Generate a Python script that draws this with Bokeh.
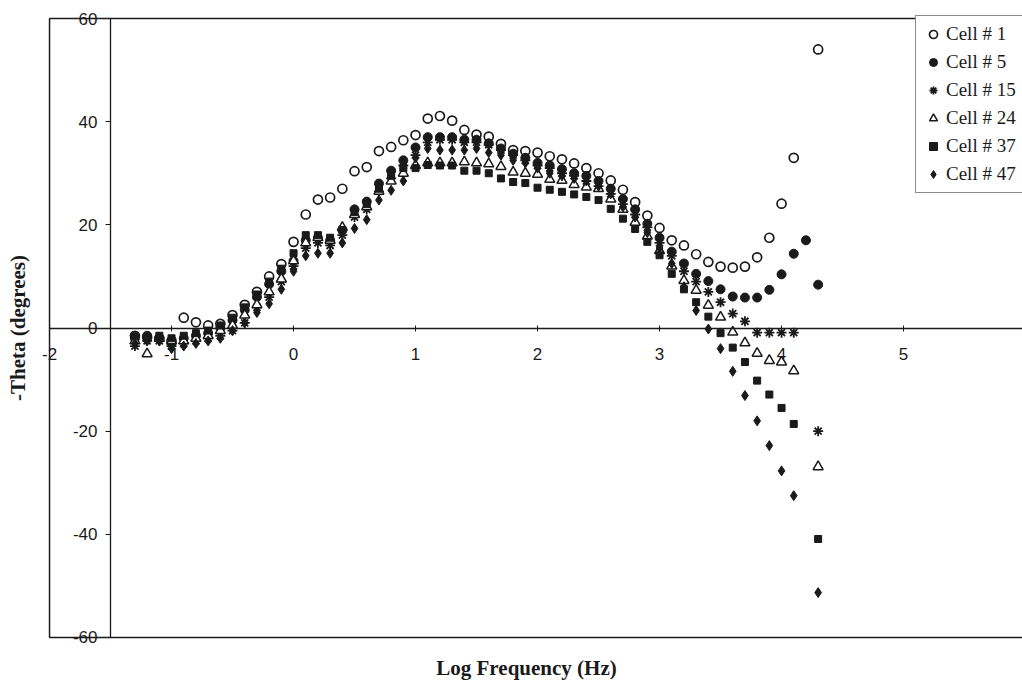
import numpy as np
from bokeh.plotting import figure
from bokeh.models import (Range1d, LinearAxis, FixedTicker, Legend, LegendItem, BoxAnnotation)
from bokeh.embed import file_html
from bokeh.resources import INLINE

nan = float("nan")

log_freq = [-1.3, -1.2, -1.1, -1.0, -0.9, -0.8, -0.7, -0.6, -0.5, -0.4,
            -0.3, -0.2, -0.1, 0.0, 0.1, 0.2, 0.3, 0.4, 0.5, 0.6,
            0.7, 0.8, 0.9, 1.0, 1.1, 1.2, 1.3, 1.4, 1.5, 1.6,
            1.7, 1.8, 1.9, 2.0, 2.1, 2.2, 2.3, 2.4, 2.5, 2.6,
            2.7, 2.8, 2.9, 3.0, 3.1, 3.2, 3.3, 3.4, 3.5, 3.6,
            3.7, 3.8, 3.9, 4.0, 4.1, 4.2, 4.3]

cell_1 = [-1.5, -1.8, -2.0, -2.5, 2.0, 1.1, 0.5, 0.8, 2.5, 4.5,
          7.0, 10.0, 12.4, 16.7, 22.0, 24.9, 25.3, 27.0, 30.4, 31.2,
          34.3, 35.1, 36.4, 37.4, 40.6, 41.1, 40.2, 38.4, 37.5, 37.1,
          35.7, 34.5, 34.3, 34.0, 33.3, 32.7, 31.9, 31.0, 30.0, 28.6,
          26.8, 24.4, 21.8, 19.4, 17.0, 16.0, 14.3, 12.8, 11.9, 11.7,
          11.9, 13.7, 17.5, 24.1, 33.0, nan, 54.0]

cell_5 = [-2.0, -1.5, -2.0, -3.0, -2.0, -1.5, -1.0, 0.0, 1.5, 3.5,
          6.0, 8.5, 11.0, 13.0, 17.0, 17.5, 17.0, 19.0, 23.0, 24.5,
          28.0, 30.5, 32.5, 35.0, 37.0, 37.0, 37.0, 36.5, 36.5, 35.8,
          34.8, 33.8, 33.0, 32.0, 31.5, 30.8, 30.0, 29.5, 28.5, 27.0,
          25.0, 23.0, 20.2, 17.5, 14.8, 12.5, 10.5, 9.1, 7.5, 6.1,
          5.9, 5.9, 7.4, 10.4, 14.4, 17.0, 8.4]

cell_15 = [-3.5, -2.5, -2.5, -3.5, -3.0, -2.5, -2.0, -1.5, -0.5, 1.0,
           4.0, 6.0, 9.0, 12.0, 15.5, 16.5, 16.0, 18.0, 21.5, 23.0,
           26.5, 29.0, 31.5, 33.5, 36.0, 36.5, 36.5, 36.0, 36.0, 35.5,
           34.5, 33.5, 32.5, 31.5, 31.0, 30.0, 29.5, 28.5, 27.5, 26.0,
           24.0, 22.0, 19.5, 16.5, 14.0, 11.0, 9.0, 7.0, 5.0, 2.8,
           1.3, -0.9, -0.9, -0.9, -0.9, nan, -20.0]

cell_24 = [-2.5, -5.0, -2.0, -2.5, -2.5, -2.0, -1.5, -0.5, 0.5, 2.5,
           4.5, 7.0, 9.5, 13.0, 16.5, 17.5, 17.0, 19.5, 22.0, 23.5,
           26.5, 28.5, 30.0, 31.5, 32.0, 32.0, 32.0, 32.2, 32.0, 31.8,
           31.3, 30.2, 30.0, 29.8, 28.8, 28.6, 27.8, 27.3, 27.0, 25.0,
           23.0, 20.5, 17.8, 15.0, 12.0, 9.2, 7.3, 4.4, 2.1, -0.8,
           -2.9, -4.9, -6.3, -6.6, -8.3, nan, -26.9]

cell_37 = [-1.5, -2.0, -1.5, -2.0, -1.5, -1.0, -0.5, 0.5, 2.0, 4.0,
           6.5, 9.0, 11.5, 14.5, 18.0, 18.0, 17.5, 19.0, 22.5, 24.0,
           27.0, 29.5, 31.0, 31.0, 31.6, 31.5, 31.5, 30.5, 30.5, 30.0,
           29.0, 28.3, 28.1, 27.2, 26.8, 26.4, 25.9, 25.4, 24.8, 23.1,
           21.2, 19.2, 16.7, 14.1, 10.5, 7.5, 5.0, 2.2, -1.0, -3.8,
           -6.6, -10.2, -12.9, -15.5, -18.6, nan, -40.9]

cell_47 = [-3.0, -2.5, -2.5, -4.0, -3.5, -3.0, -2.5, -2.0, -0.5, 1.0,
           3.0, 4.7, 7.5, 11.0, 14.0, 14.5, 14.5, 16.5, 19.3, 21.0,
           24.8, 26.7, 28.5, 33.0, 34.8, 34.5, 34.5, 34.5, 34.8, 34.0,
           33.5, 32.5, 32.0, 31.0, 30.0, 29.5, 29.0, 28.5, 27.5, 26.0,
           23.5, 21.5, 18.5, 15.5, 12.5, 8.0, 3.4, -0.2, -4.0, -8.4,
           -13.1, -18.0, -22.8, -27.7, -32.5, nan, -51.3]

series_labels = ["Cell # 1", "Cell # 5", "Cell # 15", "Cell # 24", "Cell # 37", "Cell # 47"]
x_ticks = [-2, -1, 0, 1, 2, 3, 4, 5]
x_tick_labels = ["-2", "-1", "0", "1", "2", "3", "4", "5"]
y_ticks = [-60, -40, -20, 0, 20, 40, 60]
y_tick_labels = ["-60", "-40", "-20", "0", "20", "40", "60"]

SERIF = "Liberation Serif"
TICKFONT = "Liberation Sans"
INK = "#1a1a1a"

p = figure(width=1022, height=684,
           x_range=Range1d(-2.156, 5.975), y_range=Range1d(-61.94, 61.94),
           x_axis_type=None, y_axis_type=None,
           output_backend="svg", toolbar_location=None,
           min_border_left=30, min_border_right=0,
           min_border_top=8, min_border_bottom=37)
p.outline_line_color = None
p.background_fill_color = "white"
p.border_fill_color = "white"

# plot-area border (left, top, bottom; right edge lies beyond the page)
p.add_layout(BoxAnnotation(left=-2, right=6.6, bottom=-60, top=60,
                           fill_color=None, fill_alpha=0,
                           line_color=INK, line_alpha=1.0, line_width=1.5,
                           level="underlay"))

# x axis crossing at y = 0
xaxis = LinearAxis(fixed_location=0, ticker=FixedTicker(ticks=x_ticks), bounds=(-2, 6))
xaxis.major_label_overrides = dict(zip(x_ticks, x_tick_labels))
xaxis.axis_line_color = INK
xaxis.axis_line_width = 1.3
xaxis.major_tick_line_color = INK
xaxis.major_tick_in = 3
xaxis.major_tick_out = 3
xaxis.minor_tick_line_color = None
xaxis.major_label_standoff = 17
xaxis.major_label_text_font = TICKFONT
xaxis.major_label_text_font_size = "17px"
xaxis.major_label_text_color = INK
p.add_layout(xaxis, "below")

# y axis crossing at x = -1.5
yaxis = LinearAxis(fixed_location=-1.5, ticker=FixedTicker(ticks=y_ticks), bounds=(-60, 60))
yaxis.major_label_overrides = dict(zip(y_ticks, y_tick_labels))
yaxis.axis_line_color = INK
yaxis.axis_line_width = 1.3
yaxis.major_tick_line_color = INK
yaxis.major_tick_in = 0
yaxis.major_tick_out = 5
yaxis.minor_tick_line_color = None
yaxis.major_label_standoff = 8
yaxis.major_label_text_font = TICKFONT
yaxis.major_label_text_font_size = "17px"
yaxis.major_label_text_color = INK
p.add_layout(yaxis, "left")

# axis titles
def title_axis(label):
    a = LinearAxis(axis_label=label, ticker=FixedTicker(ticks=[]))
    a.axis_line_color = None
    a.major_tick_line_color = None
    a.minor_tick_line_color = None
    a.major_label_text_font_size = "0px"
    a.axis_label_text_font = SERIF
    a.axis_label_text_font_style = "bold"
    a.axis_label_text_font_size = "21px"
    a.axis_label_text_color = INK
    return a

xtitle = title_axis("Log Frequency (Hz)")
xtitle.axis_label_standoff = 8
p.add_layout(xtitle, "below")
ytitle = title_axis("-Theta (degrees)")
ytitle.axis_label_standoff = 1
p.add_layout(ytitle, "left")

r1 = p.scatter(log_freq, cell_1, marker="circle", size=9, fill_color="white",
               line_color=INK, line_width=1.7)
r5 = p.scatter(log_freq, cell_5, marker="circle", size=9, fill_color=INK,
               line_color=INK, line_width=1)
r15 = p.scatter(log_freq, cell_15, marker="asterisk", size=10,
                line_color=INK, line_width=1.8)
r24 = p.scatter(log_freq, cell_24, marker="triangle", size=10, fill_color="white",
                line_color=INK, line_width=1.5)
r37 = p.scatter(log_freq, cell_37, marker="square", size=7, fill_color=INK,
                line_color=INK, line_width=1)
r47 = p.scatter(log_freq, cell_47, marker="diamond", size=10, fill_color=INK,
                line_color=INK, line_width=1)

renderers = [r1, r5, r15, r24, r37, r47]
legend = Legend(items=[LegendItem(label=lab, renderers=[r]) for lab, r in zip(series_labels, renderers)],
                location=(885, 454))
legend.border_line_color = INK
legend.border_line_width = 1.3
legend.background_fill_color = "white"
legend.background_fill_alpha = 1.0
legend.label_text_font = SERIF
legend.label_text_font_size = "19px"
legend.label_text_color = INK
legend.glyph_width = 20
legend.glyph_height = 20
legend.label_height = 21
legend.spacing = 6
legend.padding = 7
legend.label_standoff = 3
legend.margin = 0
p.add_layout(legend, "center")

open("out.html", "w").write(file_html(p, INLINE))
